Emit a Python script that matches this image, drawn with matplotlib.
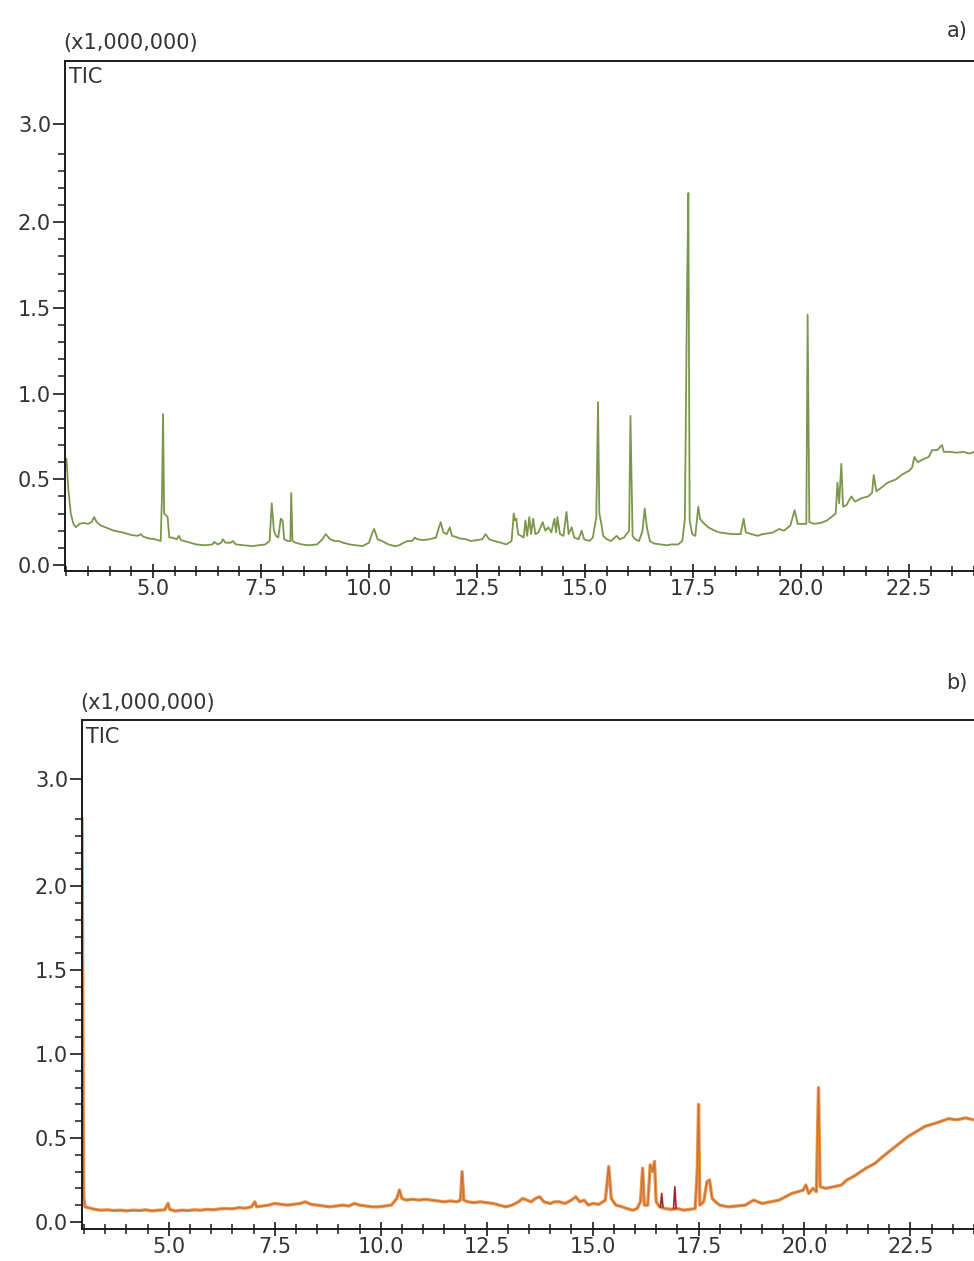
import numpy as np
import matplotlib
matplotlib.use("Agg")
import matplotlib.pyplot as plt

# retention time (min) and intensity (x1,000,000)
time_a = [2.97, 3.00, 3.04, 3.10, 3.16, 3.22, 3.30, 3.40, 3.50, 3.58, 3.64, 3.70, 3.80, 3.95,
          4.10, 4.30, 4.50, 4.65, 4.72, 4.78, 4.90, 5.05, 5.18, 5.21, 5.235, 5.26, 5.30, 5.34,
          5.38, 5.45, 5.55, 5.60, 5.65, 5.80, 6.00, 6.20, 6.38, 6.42, 6.50, 6.58, 6.62, 6.68,
          6.80, 6.85, 6.92, 7.10, 7.30, 7.45, 7.60, 7.70, 7.75, 7.80, 7.85, 7.90, 7.96, 8.00,
          8.04, 8.12, 8.18, 8.20, 8.23, 8.30, 8.45, 8.60, 8.80, 8.92, 9.00, 9.10, 9.20, 9.30,
          9.40, 9.55, 9.70, 9.85, 10.00, 10.08, 10.12, 10.20, 10.30, 10.45, 10.60, 10.70,
          10.80, 10.90, 11.00, 11.06, 11.12, 11.25, 11.40, 11.55, 11.62, 11.66, 11.72, 11.80,
          11.87, 11.92, 12.00, 12.10, 12.25, 12.35, 12.50, 12.62, 12.70, 12.78, 12.90, 13.05,
          13.18, 13.30, 13.35, 13.38, 13.41, 13.45, 13.52, 13.58, 13.62, 13.66, 13.71, 13.75,
          13.80, 13.85, 13.92, 14.02, 14.08, 14.15, 14.22, 14.29, 14.33, 14.36, 14.42, 14.50,
          14.57, 14.62, 14.69, 14.75, 14.85, 14.92, 14.98, 15.10, 15.18, 15.22, 15.26, 15.30,
          15.33, 15.37, 15.42, 15.50, 15.60, 15.73, 15.80, 15.90, 15.96, 16.02, 16.05, 16.10,
          16.16, 16.25, 16.33, 16.38, 16.43, 16.50, 16.60, 16.75, 16.90, 17.00, 17.15, 17.25,
          17.31, 17.36, 17.39, 17.42, 17.48, 17.55, 17.62, 17.66, 17.72, 17.85, 18.00, 18.11,
          18.25, 18.40, 18.60, 18.67, 18.72, 18.85, 19.00, 19.10, 19.25, 19.35, 19.49, 19.60,
          19.75, 19.85, 19.92, 20.05, 20.12, 20.15, 20.19, 20.30, 20.45, 20.60, 20.70, 20.80,
          20.84, 20.88, 20.93, 20.97, 21.05, 21.16, 21.25, 21.40, 21.55, 21.64, 21.68, 21.74,
          21.85, 22.00, 22.20, 22.35, 22.50, 22.57, 22.62, 22.70, 22.85, 22.95, 23.03, 23.15,
          23.26, 23.30, 23.45, 23.60, 23.75, 23.90, 24.00]
tic_a = [0.60, 0.62, 0.45, 0.30, 0.24, 0.22, 0.24, 0.245, 0.24, 0.25, 0.28, 0.25, 0.23, 0.215,
         0.20, 0.19, 0.175, 0.17, 0.18, 0.165, 0.155, 0.15, 0.14, 0.40, 0.88, 0.30, 0.29, 0.28,
         0.16, 0.16, 0.15, 0.17, 0.145, 0.135, 0.12, 0.115, 0.12, 0.135, 0.12, 0.13, 0.15, 0.13,
         0.13, 0.14, 0.12, 0.115, 0.11, 0.115, 0.12, 0.14, 0.36, 0.20, 0.17, 0.16, 0.27, 0.26,
         0.15, 0.14, 0.14, 0.42, 0.14, 0.13, 0.12, 0.115, 0.12, 0.15, 0.18, 0.15, 0.14, 0.14,
         0.13, 0.12, 0.115, 0.11, 0.13, 0.19, 0.21, 0.15, 0.14, 0.12, 0.11, 0.115,
         0.13, 0.14, 0.14, 0.16, 0.15, 0.145, 0.15, 0.16, 0.22, 0.25, 0.19, 0.18,
         0.22, 0.17, 0.165, 0.155, 0.15, 0.14, 0.145, 0.15, 0.18, 0.15, 0.14, 0.13,
         0.12, 0.14, 0.30, 0.26, 0.27, 0.18, 0.17, 0.16, 0.26, 0.17, 0.28, 0.18,
         0.27, 0.18, 0.19, 0.25, 0.20, 0.22, 0.19, 0.27, 0.19, 0.28, 0.18, 0.17,
         0.31, 0.18, 0.22, 0.16, 0.15, 0.20, 0.15, 0.14, 0.16, 0.22, 0.28, 0.95,
         0.30, 0.25, 0.17, 0.15, 0.14, 0.17, 0.15, 0.16, 0.18, 0.20, 0.87, 0.17,
         0.15, 0.14, 0.20, 0.33, 0.22, 0.14, 0.125, 0.12, 0.115, 0.12, 0.12, 0.14,
         0.27, 1.60, 2.17, 0.26, 0.18, 0.17, 0.34, 0.27, 0.25, 0.22, 0.20, 0.19,
         0.185, 0.18, 0.18, 0.27, 0.19, 0.18, 0.17, 0.18, 0.185, 0.19, 0.21, 0.20,
         0.23, 0.32, 0.24, 0.24, 0.24, 1.46, 0.25, 0.24, 0.245, 0.26, 0.28, 0.30,
         0.48, 0.36, 0.59, 0.34, 0.35, 0.40, 0.37, 0.39, 0.40, 0.42, 0.525, 0.43,
         0.45, 0.48, 0.50, 0.53, 0.55, 0.57, 0.63, 0.60, 0.62, 0.63, 0.67, 0.67,
         0.70, 0.66, 0.66, 0.655, 0.66, 0.65, 0.66]

time_b = [2.95, 2.97, 2.99, 3.02, 3.10, 3.25, 3.40, 3.55, 3.70, 3.85, 4.00, 4.15, 4.30, 4.45,
          4.60, 4.75, 4.90, 4.98, 5.02, 5.15, 5.30, 5.45, 5.60, 5.75, 5.90, 6.05, 6.20, 6.35,
          6.50, 6.65, 6.80, 6.95, 7.03, 7.07, 7.20, 7.35, 7.50, 7.65, 7.80, 7.95, 8.10, 8.22,
          8.35, 8.50, 8.65, 8.80, 8.95, 9.10, 9.25, 9.38, 9.50, 9.65, 9.80, 9.95, 10.10, 10.25,
          10.38, 10.44, 10.50, 10.60, 10.75, 10.90, 11.05, 11.20, 11.35, 11.50, 11.65, 11.80,
          11.88, 11.92, 11.96, 12.05, 12.20, 12.35, 12.50, 12.65, 12.80, 12.95, 13.10, 13.25,
          13.35, 13.45, 13.55, 13.65, 13.75, 13.85, 14.00, 14.10, 14.21, 14.35, 14.50, 14.60,
          14.70, 14.80, 14.90, 15.00, 15.15, 15.30, 15.38, 15.44, 15.55, 15.70, 15.80, 15.95,
          16.05, 16.13, 16.18, 16.22, 16.30, 16.36, 16.42, 16.46, 16.50, 16.58, 16.70, 16.85,
          17.00, 17.15, 17.30, 17.42, 17.47, 17.50, 17.53, 17.62, 17.70, 17.76, 17.82, 17.90,
          18.00, 18.20, 18.40, 18.60, 18.80, 19.00, 19.20, 19.40, 19.55, 19.70, 19.85, 19.97,
          20.03, 20.10, 20.20, 20.28, 20.33, 20.37, 20.50, 20.70, 20.87, 21.00, 21.15, 21.27,
          21.45, 21.67, 21.85, 22.05, 22.25, 22.45, 22.65, 22.85, 23.05, 23.23, 23.40, 23.55,
          23.63, 23.80, 23.96]
tic_b = [2.40, 1.20, 0.15, 0.09, 0.085, 0.075, 0.07, 0.072, 0.068, 0.07, 0.066, 0.07, 0.068, 0.072,
         0.066, 0.07, 0.072, 0.11, 0.075, 0.065, 0.07, 0.068, 0.072, 0.07, 0.075, 0.072, 0.078, 0.08,
         0.078, 0.085, 0.082, 0.09, 0.12, 0.09, 0.095, 0.10, 0.11, 0.105, 0.10, 0.105, 0.11, 0.12,
         0.105, 0.10, 0.095, 0.09, 0.095, 0.10, 0.095, 0.11, 0.10, 0.095, 0.09, 0.09, 0.095, 0.10,
         0.14, 0.19, 0.14, 0.13, 0.135, 0.13, 0.135, 0.13, 0.125, 0.12, 0.125, 0.12,
         0.13, 0.30, 0.13, 0.12, 0.115, 0.12, 0.115, 0.11, 0.10, 0.09, 0.10, 0.12,
         0.14, 0.13, 0.12, 0.14, 0.15, 0.12, 0.11, 0.12, 0.12, 0.11, 0.13, 0.15,
         0.12, 0.13, 0.10, 0.11, 0.105, 0.13, 0.33, 0.14, 0.10, 0.09, 0.08, 0.07,
         0.08, 0.12, 0.32, 0.10, 0.10, 0.34, 0.30, 0.36, 0.12, 0.09, 0.08, 0.075,
         0.08, 0.07, 0.075, 0.08, 0.31, 0.70, 0.10, 0.12, 0.24, 0.25, 0.14, 0.12,
         0.10, 0.09, 0.095, 0.10, 0.13, 0.11, 0.12, 0.13, 0.15, 0.17, 0.18, 0.19,
         0.22, 0.17, 0.20, 0.18, 0.80, 0.21, 0.20, 0.21, 0.22, 0.25, 0.27, 0.29,
         0.32, 0.35, 0.39, 0.43, 0.47, 0.51, 0.54, 0.57, 0.585, 0.60, 0.615, 0.61,
         0.61, 0.62, 0.61]

# two small dark red marks in trace b
red_times = [[16.60, 16.63, 16.66], [16.91, 16.94, 16.97]]
red_vals = [[0.09, 0.17, 0.09], [0.08, 0.21, 0.08]]

major_x = [5.0, 7.5, 10.0, 12.5, 15.0, 17.5, 20.0, 22.5]
y_labels = ["0.0", "0.5", "1.0", "1.5", "2.0", "3.0"]

W, H = 974, 1261
plt.rcParams['font.family'] = ['DejaVu Sans']
fig = plt.figure(figsize=(W / 100, H / 100), dpi=100)


def px_box(left, top, bottom):
    # axes box from pixel edges, right side runs to the image edge
    return [left / W, 1 - bottom / H, 1 - left / W, (bottom - top) / H]


def style(ax, xlim, ylim, top_tick):
    ax.set_xlim(*xlim)
    ax.set_ylim(*ylim)
    ax.spines['right'].set_visible(False)
    ax.spines['bottom'].set_visible(True)
    for s in ['top', 'left', 'bottom']:
        ax.spines[s].set_linewidth(1.4)
        ax.spines[s].set_color('#1a1a1a')
    ax.set_xticks(major_x)
    ax.set_xticklabels([f"{v:.1f}" for v in major_x])
    ax.set_xticks(np.arange(3.0, 24.01, 0.5), minor=True)
    ax.set_yticks([0.0, 0.5, 1.0, 1.5, 2.0, top_tick])
    ax.set_yticklabels(y_labels)
    ax.set_yticks([v for v in np.arange(0.1, 2.45, 0.1) if abs(v * 2 - round(v * 2)) > 1e-6], minor=True)
    ax.tick_params(axis='x', which='major', direction='inout', length=10, width=1.2,
                   labelsize=15, pad=1, colors='#1a1a1a', labelcolor='#333333')
    ax.tick_params(axis='x', which='minor', direction='inout', length=7, width=1.1, colors='#1a1a1a')
    ax.tick_params(axis='y', which='major', direction='out', length=9, width=1.2,
                   labelsize=15, pad=1, colors='#1a1a1a', labelcolor='#333333')
    ax.tick_params(axis='y', which='minor', direction='out', length=5, width=1.1, colors='#1a1a1a')


# panel a
ax1 = fig.add_axes(px_box(65, 61, 571))
ax1.plot(time_a, tic_a, color='#7a974c', lw=1.3)
style(ax1, (2.966, 2.966 + (W - 65) / 43.26), (-0.035, 2.94), 2.57)

# panel b
ax2 = fig.add_axes(px_box(82, 720, 1229))
ax2.plot(time_b, tic_b, color='#ee9446', lw=2.4, solid_joinstyle='round')
ax2.plot(time_b, tic_b, color='#c0703a', lw=0.8)
for rt, rv in zip(red_times, red_vals):
    ax2.plot(rt, rv, color='#a3222e', lw=1.2)
style(ax2, (2.95, 2.95 + (W - 82) / 42.46), (-0.042, 2.99), 2.64)

txt = dict(fontsize=15, color='#333333', va='center')
fig.text(63 / W, 1 - 43 / H, "(x1,000,000)", ha='left', **txt)
fig.text(69 / W, 1 - 77 / H, "TIC", ha='left', **txt)
fig.text(968 / W, 1 - 31 / H, "a)", ha='right', **txt)
fig.text(80 / W, 1 - 703 / H, "(x1,000,000)", ha='left', **txt)
fig.text(86 / W, 1 - 737 / H, "TIC", ha='left', **txt)
fig.text(968 / W, 1 - 683 / H, "b)", ha='right', **txt)

fig.savefig("out.png", dpi=100, facecolor='white')
